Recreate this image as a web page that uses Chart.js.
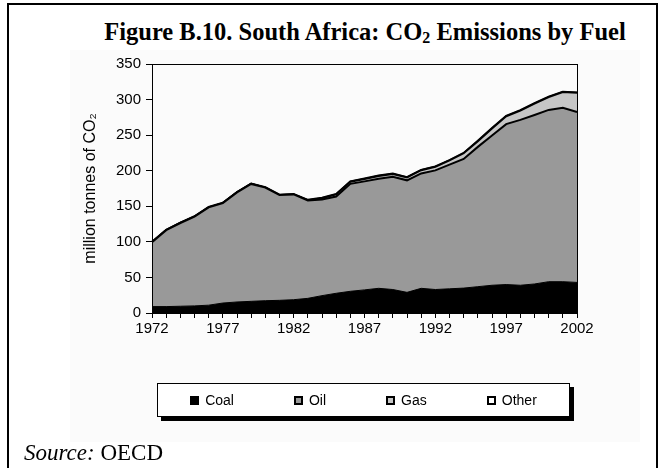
<!DOCTYPE html>
<html>
<head>
<meta charset="utf-8">
<script src="https://cdn.jsdelivr.net/npm/chart.js@4.4.0/dist/chart.umd.min.js"></script>
<style>
  html, body { margin: 0; padding: 0; width: 665px; height: 468px; overflow: hidden; background: #fff; }
  #frame { position: absolute; left: 7px; top: 3px; width: 647px; height: 520px; border: 2px solid #000; }
  #shade { position: absolute; left: 70px; top: 50px; width: 570px; height: 392px; background: #fbfbfb; }
  #title { position: absolute; left: 0; top: 18px; width: 730px; text-align: center;
           font-family: "Liberation Serif", "Times New Roman", serif; font-weight: bold; font-size: 24.5px; color: #000; }
  #title sub { font-size: 16px; vertical-align: -3px; line-height: 0; }
  #chart { position: absolute; left: 0; top: 0; }
  #legend { position: absolute; left: 157px; top: 383px; width: 413px; height: 34px; box-sizing: border-box;
            border: 1px solid #000; box-shadow: 4px 4px 0 #000; background: #fff;
            display: flex; align-items: center; justify-content: center; gap: 60px;
            font-family: "Liberation Sans", Arial, sans-serif; font-size: 14px; color: #000; }
  .item { display: flex; align-items: center; }
  .box { width: 9px; height: 9px; box-sizing: border-box; border: 2px solid #000; margin-right: 6px; }
  #source { position: absolute; left: 24px; top: 440px; font-family: "Liberation Serif", "Times New Roman", serif;
            font-size: 23px; color: #000; }
</style>
</head>
<body>
<div id="frame"></div>
<div id="shade"></div>
<div id="title">Figure B.10. South Africa: CO<sub>2</sub> Emissions by Fuel</div>
<canvas id="chart" width="665" height="468"></canvas>
<div id="legend"></div>
<div id="source"><i>Source:</i> OECD</div>
<script>
// years on the x axis
const years = ['1972','1973','1974','1975','1976','1977','1978','1979','1980','1981',
               '1982','1983','1984','1985','1986','1987','1988','1989','1990','1991',
               '1992','1993','1994','1995','1996','1997','1998','1999','2000','2001','2002'];

// million tonnes of CO2
const coal = [9, 9, 9.5, 10, 11, 14, 15.5, 16.4, 17.3, 17.8,
              18.7, 20.6, 24.4, 27.7, 30.5, 32.5, 34.7, 33, 29, 34.7,
              33, 34, 35, 37, 39, 40, 39, 40.8, 44, 44, 43];
const oil = [90.5, 107.5, 117, 125.5, 137.5, 140.5, 154, 165, 159, 148,
             148, 137.5, 135, 136, 151, 152.5, 154, 158.5, 157.5, 161.5,
             167.5, 174.5, 181.5, 196.5, 210.5, 225.5, 232.5, 237.5, 241.5, 244.5, 239.5];
const gas = [0, 0, 0, 0, 0, 0, 0, 0, 0, 0,
             0, 0.5, 2, 3, 3, 3.5, 4, 4, 4, 4.5,
             5, 6, 8, 8, 10, 11, 13, 16, 18, 22, 27];
const other = [0.5, 0.5, 0.5, 0.5, 0.5, 0.5, 0.5, 0.5, 0.5, 0.5,
               0.5, 0.5, 0.5, 0.5, 0.5, 0.5, 0.5, 0.5, 0.5, 0.5,
               0.5, 0.5, 0.5, 0.5, 0.5, 0.5, 0.5, 0.5, 0.5, 0.5, 0.5];

const yTicks = [0, 50, 100, 150, 200, 250, 300, 350];

const seriesNames = ['Coal', 'Oil', 'Gas', 'Other'];
const seriesColors = ['#000000', '#999999', '#c6c6c6', '#ffffff'];
const seriesData = [coal, oil, gas, other];

const sansFont = '"Liberation Sans", Arial, sans-serif';

// box round the plot area
const plotBox = {
    id: 'plotBox',
    afterDatasetsDraw(chart) {
        const a = chart.chartArea;
        const ctx = chart.ctx;
        ctx.save();
        ctx.strokeStyle = '#000';
        ctx.lineWidth = 1;
        ctx.strokeRect(Math.round(a.left) + 0.5, Math.round(a.top) + 0.5,
                       Math.round(a.right - a.left), Math.round(a.bottom - a.top));
        ctx.restore();
    }
};

const chart = new Chart(document.getElementById('chart'), {
    type: 'line',
    data: {
        labels: years,
        datasets: seriesData.map(function(d, i) {
            return {
                label: seriesNames[i],
                data: d,
                backgroundColor: seriesColors[i],
                borderColor: '#000',
                borderWidth: i === 0 ? 1 : 2,
                fill: i === 0 ? 'origin' : '-1',
                pointRadius: 0,
                tension: 0
            };
        })
    },
    options: {
        responsive: false,
        animation: false,
        devicePixelRatio: 1,
        layout: { padding: { left: 70, top: 64, right: 88, bottom: 128 } },
        plugins: {
            legend: { display: false },
            tooltip: { enabled: false }
        },
        scales: {
            x: {
                afterFit: function(scale) { scale.height = 27; },
                grid: { drawOnChartArea: false, tickLength: 5, color: '#000' },
                border: { color: '#000', width: 1 },
                ticks: {
                    autoSkip: false,
                    maxRotation: 0,
                    padding: 2,
                    color: '#000',
                    font: { family: sansFont, size: 15 },
                    callback: function(val, i) {
                        return i % 5 === 0 ? this.getLabelForValue(val) : '';
                    }
                }
            },
            y: {
                stacked: true,
                min: 0,
                max: 350,
                afterFit: function(scale) { scale.width = 82; },
                afterBuildTicks: function(scale) {
                    scale.ticks = yTicks.map(function(v) { return { value: v }; });
                },
                grid: { drawOnChartArea: false, tickLength: 6, color: '#000' },
                border: { color: '#000', width: 1 },
                ticks: {
                    padding: 5,
                    color: '#000',
                    font: { family: sansFont, size: 15 }
                },
                title: {
                    display: true,
                    text: 'million tonnes of CO\u2082',
                    color: '#000',
                    padding: { top: 11, bottom: 0 },
                    font: { family: sansFont, size: 16 }
                }
            }
        }
    },
    plugins: [plotBox]
});

// legend built from the datasets
const legend = document.getElementById('legend');
chart.data.datasets.forEach(function(ds) {
    const item = document.createElement('div');
    item.className = 'item';
    const box = document.createElement('span');
    box.className = 'box';
    box.style.background = ds.backgroundColor;
    item.appendChild(box);
    item.appendChild(document.createTextNode(ds.label));
    legend.appendChild(item);
});
</script>
</body>
</html>
